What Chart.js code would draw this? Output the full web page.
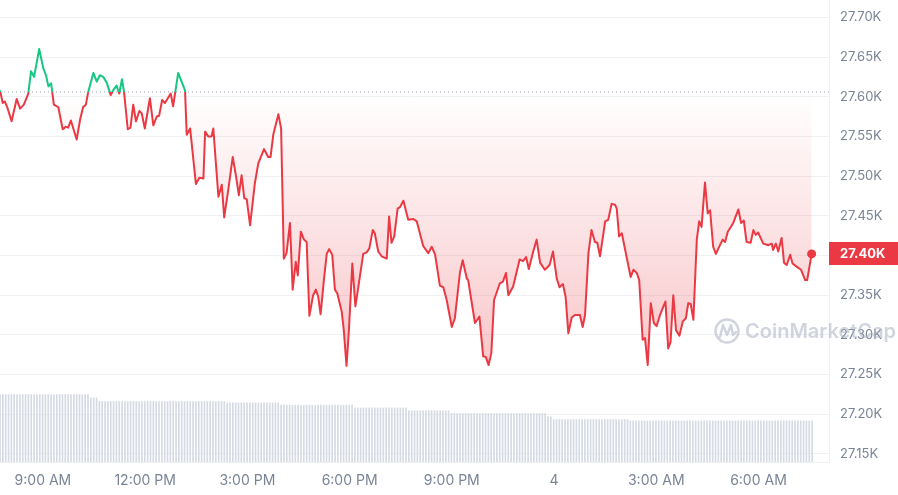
<!DOCTYPE html>
<html>
<head>
<meta charset="utf-8">
<script src="https://cdn.jsdelivr.net/npm/chart.js@4.4.0/dist/chart.umd.min.js"></script>
<style>
  html, body { margin: 0; padding: 0; background: #fff; }
  #wrap { width: 898px; height: 495px; position: relative; }
</style>
</head>
<body>
<div id="wrap"><canvas id="priceChart"></canvas></div>
<script>
// time in hours since 00:00 of day 3 (24 = midnight of day 4)
const hours = [
  7.74, 7.82, 7.88, 7.95, 8.08, 8.23, 8.33, 8.44, 8.57, 8.65, 8.74, 8.89, 9.01, 9.09, 9.16, 9.24,
  9.32, 9.45, 9.58, 9.67, 9.74, 9.82, 9.99, 10.09, 10.18, 10.26, 10.33, 10.48, 10.58, 10.67, 10.77, 10.87,
  10.99, 11.06, 11.16, 11.24, 11.32, 11.38, 11.49, 11.57, 11.65, 11.73, 11.83, 11.90, 11.99, 12.14, 12.24, 12.34,
  12.41, 12.50, 12.58, 12.75, 12.82, 12.97, 13.17, 13.22, 13.32, 13.49, 13.59, 13.71, 13.76, 13.85, 13.95, 14.00,
  14.15, 14.25, 14.32, 14.44, 14.57, 14.67, 14.75, 14.83, 14.91, 14.98, 15.08, 15.22, 15.32, 15.49, 15.61, 15.68,
  15.76, 15.91, 15.99, 16.07, 16.15, 16.25, 16.33, 16.42, 16.48, 16.57, 16.66, 16.74, 16.82, 16.93, 17.01, 17.08,
  17.15, 17.25, 17.33, 17.40, 17.49, 17.57, 17.64, 17.77, 17.83, 17.91, 17.98, 18.08, 18.17, 18.28, 18.40, 18.50,
  18.58, 18.68, 18.74, 18.84, 18.94, 19.09, 19.16, 19.23, 19.31, 19.41, 19.48, 19.58, 19.72, 19.87, 19.97, 20.16,
  20.31, 20.41, 20.51, 20.65, 20.75, 20.85, 21.00, 21.09, 21.24, 21.32, 21.44, 21.48, 21.68, 21.81, 21.92, 22.00,
  22.08, 22.16, 22.24, 22.41, 22.50, 22.59, 22.66, 22.80, 22.99, 23.09, 23.18, 23.26, 23.39, 23.49, 23.59, 23.73,
  23.87, 23.97, 24.08, 24.16, 24.26, 24.34, 24.42, 24.52, 24.61, 24.76, 24.84, 24.91, 25.01, 25.10, 25.20, 25.27,
  25.35, 25.45, 25.50, 25.59, 25.69, 25.79, 25.84, 25.91, 25.99, 26.13, 26.25, 26.33, 26.43, 26.50, 26.60, 26.67,
  26.75, 26.84, 26.93, 27.01, 27.11, 27.21, 27.27, 27.35, 27.42, 27.50, 27.58, 27.68, 27.78, 27.87, 27.94, 28.01,
  28.09, 28.19, 28.26, 28.33, 28.43, 28.51, 28.58, 28.67, 28.75, 28.87, 28.95, 29.02, 29.10, 29.26, 29.41, 29.49,
  29.57, 29.65, 29.77, 29.85, 29.92, 29.99, 30.14, 30.29, 30.39, 30.43, 30.51, 30.58, 30.68, 30.75, 30.83, 30.93,
  31.00, 31.12, 31.25, 31.37, 31.43, 31.56
];

const prices = [
  27608, 27592, 27594, 27587, 27569, 27597, 27585, 27590, 27604, 27632, 27625, 27660, 27636, 27627, 27613, 27617,
  27590, 27587, 27559, 27562, 27561, 27570, 27546, 27571, 27587, 27590, 27606, 27630, 27619, 27627, 27625, 27618,
  27602, 27608, 27614, 27604, 27622, 27606, 27559, 27561, 27590, 27569, 27582, 27579, 27560, 27598, 27564, 27575,
  27576, 27596, 27592, 27604, 27588, 27630, 27608, 27552, 27560, 27490, 27498, 27497, 27556, 27550, 27550, 27560,
  27474, 27489, 27448, 27483, 27524, 27499, 27476, 27501, 27472, 27471, 27438, 27491, 27516, 27534, 27524, 27524,
  27552, 27578, 27560, 27396, 27403, 27441, 27357, 27392, 27375, 27430, 27420, 27417, 27324, 27350, 27357, 27348,
  27326, 27371, 27402, 27408, 27401, 27357, 27352, 27329, 27306, 27261, 27306, 27390, 27336, 27367, 27402, 27404,
  27409, 27432, 27428, 27405, 27399, 27396, 27449, 27416, 27424, 27459, 27461, 27469, 27445, 27446, 27443, 27412,
  27403, 27411, 27401, 27362, 27360, 27344, 27310, 27321, 27379, 27394, 27371, 27369, 27315, 27323, 27273, 27272,
  27262, 27277, 27344, 27365, 27367, 27378, 27350, 27361, 27395, 27393, 27398, 27383, 27405, 27420, 27391, 27382,
  27388, 27405, 27371, 27360, 27364, 27348, 27302, 27322, 27325, 27325, 27310, 27325, 27403, 27432, 27417, 27416,
  27399, 27428, 27443, 27445, 27465, 27464, 27459, 27424, 27428, 27398, 27373, 27382, 27378, 27369, 27294, 27296,
  27262, 27340, 27315, 27311, 27325, 27336, 27342, 27283, 27291, 27350, 27306, 27299, 27317, 27321, 27340, 27339,
  27319, 27420, 27443, 27436, 27492, 27453, 27457, 27411, 27402, 27413, 27420, 27417, 27430, 27441, 27458, 27441,
  27444, 27417, 27416, 27432, 27426, 27429, 27415, 27413, 27415, 27407, 27415, 27405, 27422, 27391, 27388, 27401,
  27390, 27386, 27382, 27369, 27369, 27402
];

const openPrice = 27606;

// 24h volume (billion USD), read as flat steps: level + number of 5-min bars
const volLevels = [14.6, 13.9, 13.1, 12.8, 12.3, 11.7, 11.1, 10.5, 9.8, 9.2, 8.9];
const volCounts = [32, 3, 45, 19, 26, 19, 15, 34, 2, 27, 65];

const xTickHours  = [9, 12, 15, 18, 21, 24, 27, 30];
const xTickLabels = ['9:00 AM', '12:00 PM', '3:00 PM', '6:00 PM', '9:00 PM', '4', '3:00 AM', '6:00 AM'];
const yTicks = [27150, 27200, 27250, 27300, 27350, 27400, 27450, 27500, 27550, 27600, 27650, 27700];

const UP = '#16c784';
const DOWN = '#ea3943';
const TEXT = '#7a8497';
const GRID = '#eff1f4';

// ── build series ──
const priceData = hours.map((h, i) => ({ x: h, y: prices[i] }));

const volumeData = [];
volLevels.forEach((lvl, k) => {
  for (let j = 0; j < volCounts[k]; j++) {
    volumeData.push({ x: hours[0] + volumeData.length * 5 / 60, y: lvl });
  }
});

const X_MIN = hours[0];
const X_MAX = 32.07;

function splitStroke(ctx) {
  const chart = ctx.chart;
  const area = chart.chartArea;
  if (!area) return DOWN;
  const y0 = chart.scales.y.getPixelForValue(openPrice);
  const f = Math.min(1, Math.max(0, (y0 - area.top) / (area.bottom - area.top)));
  const g = chart.ctx.createLinearGradient(0, area.top, 0, area.bottom);
  g.addColorStop(0, UP);
  g.addColorStop(f, UP);
  g.addColorStop(f, DOWN);
  g.addColorStop(1, DOWN);
  return g;
}

function belowFill(ctx) {
  const chart = ctx.chart;
  const area = chart.chartArea;
  if (!area) return 'rgba(234,57,67,0.1)';
  const y0 = chart.scales.y.getPixelForValue(openPrice);
  const g = chart.ctx.createLinearGradient(0, y0, 0, area.bottom - 80);
  g.addColorStop(0, 'rgba(234,57,67,0)');
  g.addColorStop(1, 'rgba(234,57,67,0.30)');
  return g;
}

function noPad(s) {
  s.paddingTop = 0;
  s.paddingBottom = 0;
  s.paddingLeft = 0;
  s.paddingRight = 0;
}

// ── current price tag + watermark ──
const overlay = {
  id: 'overlay',
  afterDraw(chart) {
    const c = chart.ctx;
    const area = chart.chartArea;
    const last = prices[prices.length - 1];
    const y = chart.scales.y.getPixelForValue(last);

    c.save();
    // watermark
    c.globalAlpha = 0.55;
    c.strokeStyle = '#a9b1c1';
    c.fillStyle = '#a9b1c1';
    c.lineWidth = 2.4;
    c.beginPath();
    c.arc(727, 331, 11.5, 0, Math.PI * 2);
    c.stroke();
    c.beginPath();
    c.lineJoin = 'round';
    c.lineCap = 'round';
    c.moveTo(720, 337);
    c.lineTo(723, 325);
    c.lineTo(727, 335);
    c.lineTo(731, 325);
    c.lineTo(733, 335);
    c.lineTo(736, 332);
    c.stroke();
    c.font = '600 20px Inter, sans-serif';
    c.textBaseline = 'middle';
    c.textAlign = 'left';
    c.fillText('CoinMarketCap', 745, 332);
    c.restore();

    c.save();
    c.fillStyle = DOWN;
    c.fillRect(area.right, Math.round(y - 11.5), chart.width - area.right, 23);
    c.fillStyle = '#ffffff';
    c.font = 'bold 13px Inter, sans-serif';
    c.textBaseline = 'middle';
    c.textAlign = 'left';
    c.fillText((last / 1000).toFixed(2) + 'K', area.right + 11, y + 0.5);
    c.restore();
  }
};

const ctx = document.getElementById('priceChart').getContext('2d');

new Chart(ctx, {
  data: {
    datasets: [
      {
        type: 'line',
        data: priceData,
        yAxisID: 'y',
        order: 0,
        borderColor: splitStroke,
        backgroundColor: belowFill,
        borderWidth: 2,
        borderJoinStyle: 'round',
        tension: 0,
        fill: { value: openPrice },
        pointRadius: c => (c.dataIndex === prices.length - 1 ? 4.5 : 0),
        pointBackgroundColor: DOWN,
        pointBorderWidth: 0
      },
      {
        type: 'line',
        data: [{ x: X_MIN, y: openPrice }, { x: X_MAX, y: openPrice }],
        yAxisID: 'y',
        order: 1,
        borderColor: '#9aa1ad',
        borderWidth: 1,
        borderDash: [1, 3],
        pointRadius: 0,
        fill: false
      },
      {
        type: 'bar',
        data: volumeData,
        yAxisID: 'vol',
        order: 2,
        backgroundColor: '#d5dae3',
        barThickness: 1,
        borderWidth: 0
      }
    ]
  },
  options: {
    responsive: true,
    maintainAspectRatio: false,
    animation: false,
    layout: { padding: 0, autoPadding: false },
    plugins: {
      legend: { display: false },
      tooltip: { enabled: false }
    },
    scales: {
      x: {
        type: 'linear',
        min: X_MIN,
        max: X_MAX,
        offset: false,
        afterBuildTicks: s => { s.ticks = xTickHours.map(v => ({ value: v })); },
        afterFit: s => { s.height = 33; noPad(s); },
        grid: { display: false, drawTicks: false },
        border: { display: true, color: GRID },
        ticks: {
          autoSkip: false,
          maxRotation: 0,
          padding: 10,
          color: TEXT,
          font: { family: 'Inter, sans-serif', size: 14 },
          callback: (v, i) => xTickLabels[i]
        }
      },
      y: {
        position: 'right',
        min: 27139.9,
        max: 27721.8,
        afterBuildTicks: s => { s.ticks = yTicks.map(v => ({ value: v })); },
        afterFit: s => { s.width = 69; noPad(s); },
        grid: { color: GRID, drawTicks: false },
        border: { display: true, color: GRID },
        ticks: {
          padding: 11,
          color: TEXT,
          font: { family: 'Inter, sans-serif', size: 13 },
          callback: v => (v / 1000).toFixed(2) + 'K'
        }
      },
      vol: {
        display: false,
        min: 0,
        max: 100
      }
    }
  },
  plugins: [overlay]
});
</script>
</body>
</html>
